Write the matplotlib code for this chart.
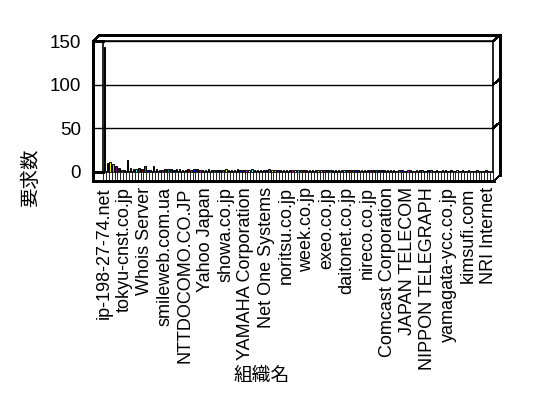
import matplotlib
matplotlib.use("Agg")
import matplotlib.pyplot as plt
from matplotlib.transforms import Affine2D
from matplotlib.lines import Line2D
import numpy as np

# ---------------- data ----------------
values = [143, 10, 11, 9, 7, 5, 2, 2, 14, 5, 4, 3, 5, 3, 7, 2, 2, 7, 3, 2,
          2, 3, 4, 3, 2, 3, 3, 2, 2, 3, 2, 3, 3, 2, 2, 2, 3, 2, 2, 2,
          2, 2, 3, 2, 2, 2, 3, 2, 2, 2, 2, 3, 2, 2, 2, 2, 2, 3, 2, 2,
          2, 2, 2, 2, 2, 2, 2, 2, 2, 2, 2, 2, 2, 2, 2, 2, 2, 2, 2, 2,
          2, 2, 2, 2, 2, 2, 2, 2, 2, 2, 2, 2, 2, 2, 2, 2, 2, 2, 2, 2,
          2, 1, 2, 2, 1, 2, 2, 1, 2, 2, 2, 1, 2, 2, 1, 2, 1, 2, 2, 1,
          2, 1, 2, 1, 2, 1, 2, 1, 1, 2, 1, 1, 2, 1, 1]
tick_labels = ["ip-198-27-74.net", "tokyu-cnst.co.jp", "Whois Server",
               "smileweb.com.ua", "NTTDOCOMO.CO.JP", "Yahoo Japan",
               "showa.co.jp", "YAMAHA Corporation", "Net One Systems",
               "noritsu.co.jp", "week.co.jp", "exeo.co.jp", "daitonet.co.jp",
               "nireco.co.jp", "Comcast Corporation", "JAPAN TELECOM",
               "NIPPON TELEGRAPH", "yamagata-ycc.co.jp", "kimsufi.com",
               "NRI Internet"]
label_step = 7
y_ticks = [0, 50, 100, 150]
x_title = "組織名"
y_title = "要求数"
palette = ["#000080", "#FF00FF", "#FFFF00", "#00FFFF",
           "#800080", "#800000", "#008080", "#0000FF"]

FONT = ["Liberation Sans", "Noto Sans CJK JP", "DejaVu Sans"]
plt.rcParams["font.family"] = FONT
FS = 13

W, H = 548, 398
fig = plt.figure(figsize=(W / 100, H / 100), dpi=100)
pix = Affine2D().scale(1 / W, -1 / H).translate(0, 1) + fig.transFigure

# plot area (back wall)
L, R, T, B = 103, 493, 41, 172
ax = fig.add_axes([L / W, 1 - B / H, (R - L) / W, (B - T) / H])

n = len(values)
x = np.arange(n)
colors = [palette[i % len(palette)] for i in range(n)]
ax.bar(x, values, width=0.55, color=colors, edgecolor="black",
       linewidth=0.7, zorder=3)
ax.set_xlim(-0.5, n - 0.5)
ax.set_ylim(0, 150)

for s in ax.spines.values():
    s.set_linewidth(1.2)
    s.set_color("black")

ax.set_yticks(y_ticks)
ax.tick_params(axis="y", direction="out", length=7.2, width=1.0,
               pad=8.5, labelsize=FS + 0.5)
ax.yaxis.grid(True, color="black", linewidth=1.0, zorder=1)
ax.set_axisbelow(True)

# category boundary ticks (floor) as major ticks, labels as minor ticks
ax.set_xticks(np.arange(n + 1) - 0.5)
ax.set_xticklabels([])
ax.tick_params(axis="x", which="major", direction="out", length=6.5,
               width=0.6)
lab_pos = np.arange(len(tick_labels)) * label_step
ax.set_xticks(lab_pos, minor=True)
ax.set_xticklabels(tick_labels, minor=True, rotation=90, fontsize=FS)
ax.tick_params(axis="x", which="minor", length=0, pad=11)

# pseudo-3D frame
def seg(x0, y0, x1, y1, lw=1.0):
    fig.add_artist(Line2D([x0, x1], [y0, y1], transform=pix, color="black",
                          linewidth=lw, antialiased=False))

dx, dy = 7, 6
seg(93, T, 93, 181)            # outer left
seg(93, 181, R + 1, 181)        # floor front
seg(93, B, L, B)                # left wall bottom
seg(93, T, L, T)                # left wall top
seg(93, T, 93 + dx, T - dy)     # top-left diagonal
seg(93 + dx, T - dy, R + dx, T - dy)   # back top
seg(R, T, R + dx, T - dy)       # top-right diagonal
seg(R + dx, T - dy, R + dx, B + 3)     # right outer
seg(R + 1, 181, R + dx, B + 3)  # bottom-right diagonal
for yv in (50, 100):
    yp = B - (B - T) * yv / 150
    seg(R, yp, R + dx, yp - dy)

fig.text(31 / W, 1 - 178 / H, y_title, rotation=90, ha="center",
         va="center", fontsize=FS + 1)
fig.text(262 / W, 1 - 376 / H, x_title, ha="center", va="center",
         fontsize=FS + 0.5)

fig.savefig("out.png", dpi=100, facecolor="white")
